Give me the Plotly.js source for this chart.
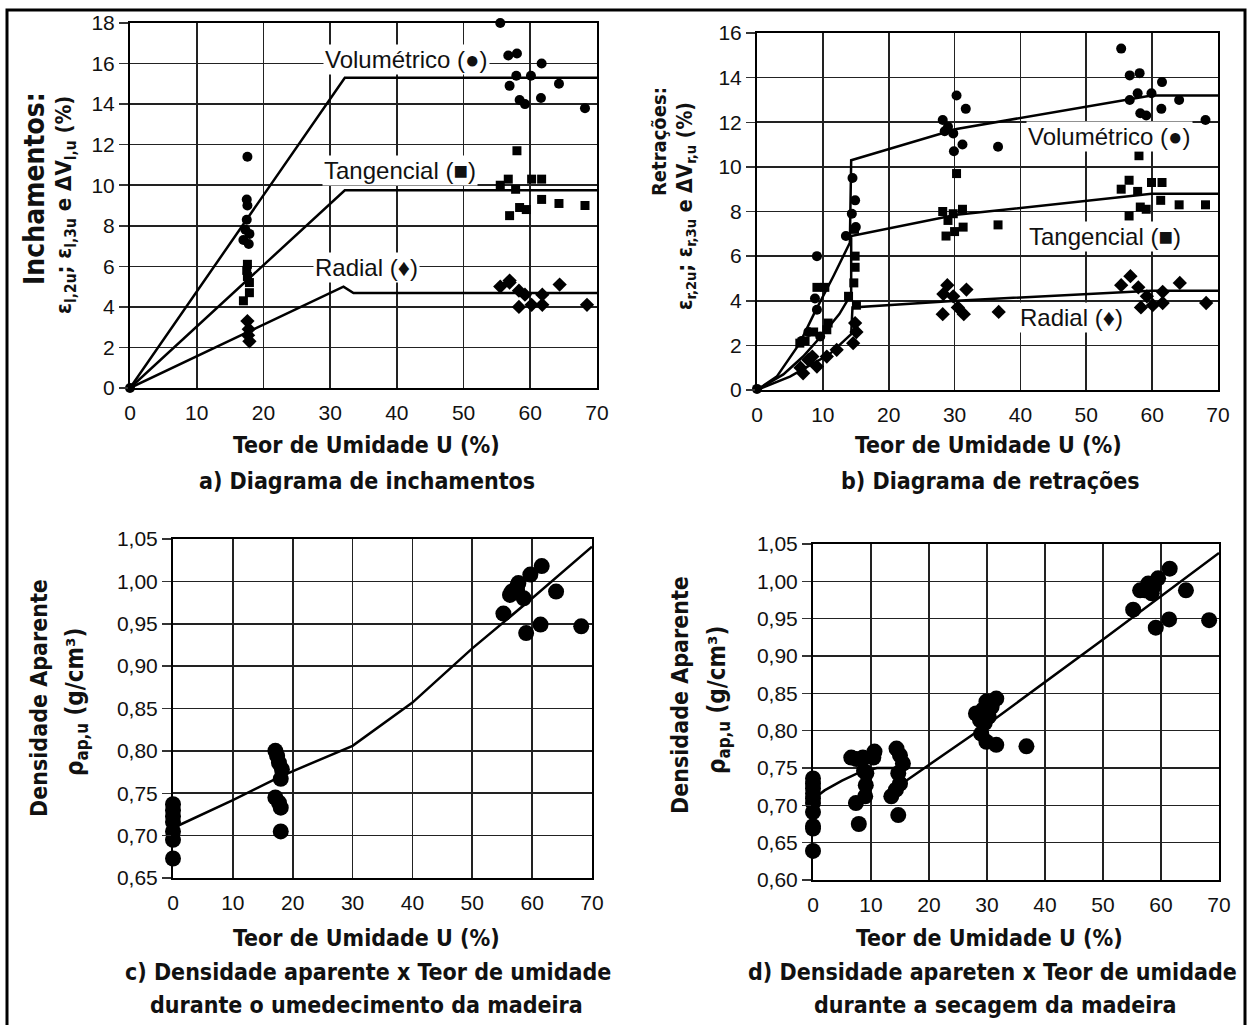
<!DOCTYPE html>
<html>
<head>
<meta charset="utf-8">
<script src="https://cdn.plot.ly/plotly-3.0.1.min.js"></script>
<style>html,body{margin:0;padding:0;background:#fff;}#chart{width:1250px;height:1025px;}</style>
</head>
<body>
<div id="chart"></div>
<script>
// ---------- Panel a: swelling (inchamentos) ----------
const aVolX = [0, 17.6, 17.5, 17.6, 17.5, 17.3, 17.0, 17.9, 17.8, 55.5, 56.7, 58.0, 57.9, 60.1, 61.7, 56.9, 58.4, 59.2, 61.6, 64.3, 68.2];
const aVolY = [0, 11.4, 9.3, 9.0, 8.3, 7.8, 7.3, 7.6, 7.1, 18.0, 16.4, 16.5, 15.4, 15.4, 16.0, 14.9, 14.2, 14.0, 14.3, 15.0, 13.8];
const aTanX = [17.6, 17.5, 17.6, 17.9, 17.9, 17.0, 55.5, 56.7, 57.8, 58.0, 56.9, 58.4, 59.4, 60.2, 61.7, 61.7, 64.3, 68.2];
const aTanY = [6.1, 5.8, 5.5, 5.2, 4.7, 4.3, 10.0, 10.3, 9.8, 11.7, 8.5, 8.9, 8.8, 10.3, 10.3, 9.3, 9.1, 9.0];
const aRadX = [17.6, 17.8, 17.7, 17.9, 55.5, 56.9, 56.9, 58.3, 58.3, 59.2, 60.2, 61.8, 61.8, 64.4, 68.5];
const aRadY = [3.3, 2.9, 2.6, 2.3, 5.0, 5.3, 5.2, 4.8, 4.0, 4.6, 4.1, 4.6, 4.1, 5.1, 4.1];
const aVolLineX = [0, 32.2, 70];
const aVolLineY = [0, 15.3, 15.3];
const aTanLineX = [0, 32.2, 70];
const aTanLineY = [0, 9.75, 9.75];
const aRadLineX = [0, 32, 33.5, 70];
const aRadLineY = [0, 5.0, 4.68, 4.68];

// ---------- Panel b: shrinkage (retrações) ----------
const bVolX = [0, 6.8, 7.8, 9.6, 9.1, 8.8, 9.1, 13.5, 15.0, 14.4, 14.9, 14.5, 28.2, 28.5, 29.0, 29.8, 30.3, 31.7, 31.2, 29.9, 36.6, 55.3, 56.6, 58.1, 57.8, 56.6, 58.2, 59.1, 59.9, 61.5, 61.4, 64.1, 68.1];
const bVolY = [0.05, 2.2, 2.6, 2.4, 3.6, 4.1, 6.0, 6.9, 7.3, 7.9, 8.5, 9.5, 12.1, 11.6, 11.8, 11.5, 13.2, 12.6, 11.0, 10.7, 10.9, 15.3, 14.1, 14.2, 13.3, 13.0, 12.4, 12.3, 13.3, 13.8, 12.6, 13.0, 12.1];
const bTanX = [6.5, 7.3, 8.6, 10.6, 10.8, 13.9, 15.1, 14.7, 9.1, 10.3, 14.9, 14.9, 14.8, 28.2, 29.0, 29.8, 31.2, 31.3, 28.7, 30.0, 30.3, 36.6, 58.0, 55.3, 56.5, 57.8, 56.5, 58.2, 59.1, 59.9, 61.5, 61.3, 64.1, 68.1];
const bTanY = [2.1, 2.2, 2.6, 2.7, 3.0, 4.2, 3.8, 4.8, 4.6, 4.6, 5.5, 6.0, 7.2, 8.0, 7.6, 7.9, 8.1, 7.3, 6.9, 7.1, 9.7, 7.4, 10.5, 9.0, 9.4, 8.9, 7.8, 8.2, 8.1, 9.3, 9.3, 8.5, 8.3, 8.3];
const bRadX = [6.6, 7.0, 7.8, 8.4, 9.1, 10.6, 12.1, 14.6, 15.1, 14.9, 28.2, 28.3, 28.9, 29.8, 30.5, 31.4, 31.8, 36.7, 55.3, 56.7, 57.9, 58.3, 59.2, 60.1, 61.6, 61.6, 64.2, 68.2];
const bRadY = [1.0, 0.75, 1.35, 1.5, 1.05, 1.5, 1.8, 2.1, 2.6, 3.0, 3.4, 4.3, 4.7, 4.2, 3.7, 3.4, 4.5, 3.5, 4.7, 5.1, 4.6, 3.7, 4.2, 3.8, 4.4, 3.9, 4.8, 3.9];
const bVolLineX = [0, 3, 6.5, 8.8, 11.6, 14.1, 14.3, 30.3, 59.9, 70];
const bVolLineY = [0, 0.6, 2.1, 3.5, 5.1, 6.6, 10.3, 11.7, 13.2, 13.2];
const bTanLineX = [0, 4, 7, 10, 12.5, 14.3, 14.3, 30.3, 59.9, 70];
const bTanLineY = [0, 0.7, 1.5, 2.5, 3.4, 4.3, 6.9, 7.85, 8.8, 8.8];
const bRadLineX = [0, 5, 8, 11, 14.3, 14.5, 30.3, 59.9, 70];
const bRadLineY = [0, 0.6, 1.1, 1.6, 2.5, 3.7, 4.0, 4.45, 4.45];

// ---------- Panel c: density during wetting ----------
const cX = [0, 0, 0, 0, 0, 0, 0, 17.1, 17.4, 17.7, 18.2, 18.0, 17.1, 17.7, 18.0, 18.0, 55.2, 56.3, 56.6, 57.5, 57.7, 57.5, 58.6, 59.7, 61.6, 59.0, 61.4, 64.0, 68.2];
const cY = [0.737, 0.730, 0.723, 0.716, 0.705, 0.695, 0.673, 0.800, 0.794, 0.786, 0.778, 0.767, 0.745, 0.739, 0.733, 0.705, 0.962, 0.984, 0.988, 0.994, 0.998, 0.988, 0.980, 1.008, 1.018, 0.939, 0.949, 0.988, 0.947];
const cLineX = [0, 10, 18, 30, 40, 50, 60, 70];
const cLineY = [0.709, 0.742, 0.770, 0.806, 0.857, 0.921, 0.980, 1.041];

// ---------- Panel d: density during drying ----------
const dX = [0, 0, 0, 0, 0, 0, 0, 0, 0, 0, 6.6, 7.5, 8.6, 10.6, 10.4, 8.8, 9.1, 7.4, 9.0, 7.9, 9.2, 14.4, 15.0, 15.5, 14.7, 15.0, 14.3, 13.5, 14.7, 28.1, 29.3, 30.8, 31.6, 29.9, 28.8, 29.6, 29.0, 29.9, 31.6, 30.3, 36.8, 55.2, 56.4, 57.8, 58.4, 59.5, 61.5, 59.1, 61.4, 64.3, 68.3, 57.2, 58.7];
const dY = [0.736, 0.729, 0.723, 0.716, 0.709, 0.703, 0.691, 0.672, 0.669, 0.639, 0.764, 0.762, 0.764, 0.772, 0.764, 0.746, 0.727, 0.703, 0.712, 0.675, 0.743, 0.776, 0.767, 0.756, 0.743, 0.729, 0.721, 0.712, 0.687, 0.823, 0.828, 0.832, 0.843, 0.839, 0.814, 0.810, 0.796, 0.785, 0.781, 0.819, 0.779, 0.962, 0.988, 0.997, 0.984, 1.004, 1.017, 0.938, 0.949, 0.988, 0.948, 0.988, 0.993];
const dLineX = [0, 2, 5, 8, 11, 14, 15.5, 30, 50, 70];
const dLineY = [0.708, 0.720, 0.733, 0.744, 0.750, 0.750, 0.730, 0.808, 0.922, 1.038];

// ---------- Text ----------
const xTitle = 'Teor de Umidade U (%)';
const subA = 'a) Diagrama de inchamentos';
const subB = 'b) Diagrama de retrações';
const subC1 = 'c) Densidade aparente x Teor de umidade';
const subC2 = 'durante o umedecimento da madeira';
const subD1 = 'd) Densidade apareten x Teor de umidade';
const subD2 = 'durante a secagem da madeira';
const yA1 = 'Inchamentos:';
const yA2 = 'ε<sub>l,2u</sub>; ε<sub>l,3u</sub> e ΔV<sub>l,u</sub> (%)';
const yB1 = 'Retrações:';
const yB2 = 'ε<sub>r,2u</sub>; ε<sub>r,3u</sub> e ΔV<sub>r,u</sub> (%)';
const yC1 = 'Densidade Aparente';
const yC2 = 'ρ<sub>ap,u</sub> (g/cm³)';
const lblVol = 'Volumétrico (●)';
const lblTan = 'Tangencial (■)';
const lblRad = 'Radial (♦)';

// ---------- Build ----------
const W = 1250, H = 1025;
const px = v => v / W;
const py = v => 1 - v / H;
const BOLD = 'DejaVu Sans Condensed, Liberation Sans Narrow, sans-serif';
const REG = 'Liberation Sans, Arial, sans-serif';

function sc(x, y, xa, ya, sym, size) {
  return {x: x, y: y, xaxis: xa, yaxis: ya, type: 'scatter', mode: 'markers', cliponaxis: false,
    marker: {symbol: sym, size: size, color: '#000'}, hoverinfo: 'skip'};
}
function ln(x, y, xa, ya) {
  return {x: x, y: y, xaxis: xa, yaxis: ya, type: 'scatter', mode: 'lines', cliponaxis: false,
    line: {color: '#000', width: 2.5}, hoverinfo: 'skip'};
}

const traces = [
  ln(aVolLineX, aVolLineY, 'x', 'y'), ln(aTanLineX, aTanLineY, 'x', 'y'), ln(aRadLineX, aRadLineY, 'x', 'y'),
  sc(aVolX, aVolY, 'x', 'y', 'circle', 10), sc(aTanX, aTanY, 'x', 'y', 'square', 9), sc(aRadX, aRadY, 'x', 'y', 'diamond', 11),
  ln(bVolLineX, bVolLineY, 'x2', 'y2'), ln(bTanLineX, bTanLineY, 'x2', 'y2'), ln(bRadLineX, bRadLineY, 'x2', 'y2'),
  sc(bVolX, bVolY, 'x2', 'y2', 'circle', 10), sc(bTanX, bTanY, 'x2', 'y2', 'square', 9), sc(bRadX, bRadY, 'x2', 'y2', 'diamond', 11),
  ln(cLineX, cLineY, 'x3', 'y3'), sc(cX, cY, 'x3', 'y3', 'circle', 16),
  ln(dLineX, dLineY, 'x4', 'y4'), sc(dX, dY, 'x4', 'y4', 'circle', 16)
];

function xax(d0, d1, anchor) {
  return {domain: [px(d0), px(d1)], anchor: anchor, range: [0, 70], dtick: 10, tick0: 0,
    showgrid: true, gridcolor: '#222', gridwidth: 1.6, zeroline: false,
    showline: true, linecolor: '#000', linewidth: 2, mirror: true,
    ticks: 'outside', ticklen: 5, tickcolor: 'rgba(0,0,0,0)',
    tickfont: {family: REG, size: 21, color: '#111'}, fixedrange: true};
}
function yax(d0, d1, anchor, r, dt, fmt) {
  const o = {domain: [py(d1), py(d0)], anchor: anchor, range: r, dtick: dt, tick0: r[0],
    showgrid: true, gridcolor: '#222', gridwidth: 1.6, zeroline: false,
    showline: true, linecolor: '#000', linewidth: 2, mirror: true,
    ticks: 'outside', ticklen: 9, tickcolor: '#333', tickwidth: 1.5,
    tickfont: {family: REG, size: 21, color: '#111'}, fixedrange: true};
  if (fmt) o.tickformat = fmt;
  return o;
}

function txt(t, x, y, size, extra) {
  return Object.assign({text: t, x: px(x), y: py(y), xref: 'paper', yref: 'paper', showarrow: false,
    xanchor: 'center', yanchor: 'middle', font: {family: BOLD, size: size, color: '#111', weight: 'bold'}}, extra || {});
}
function lab(t, x, y, xa, ya) {
  return {text: t, x: x, y: y, xref: xa, yref: ya, showarrow: false, xanchor: 'center', yanchor: 'middle',
    bgcolor: '#fff', borderpad: 1, font: {family: REG, size: 24, color: '#111'}};
}

const rot = {textangle: -90};
const annotations = [
  txt(xTitle, 366, 445, 23), txt(subA, 367, 481, 23),
  txt(xTitle, 988, 445, 23), txt(subB, 990, 481, 23),
  txt(xTitle, 366, 938, 23), txt(subC1, 368, 972, 23), txt(subC2, 366, 1005, 23),
  txt(xTitle, 989, 938, 23), txt(subD1, 992, 972, 23), txt(subD2, 995, 1005, 23),
  txt(yA1, 35, 189, 28, rot), txt(yA2, 66, 205, 22, rot),
  txt(yB1, 659, 142, 20, rot), txt(yB2, 686, 206, 21, rot),
  txt(yC1, 39, 698, 23, rot), txt(yC2, 76, 702, 24, rot),
  txt(yC1, 680, 695, 23, rot), txt(yC2, 718, 700, 24, rot),
  lab(lblVol, 41.5, 16.2, 'x', 'y'), lab(lblTan, 40.5, 10.75, 'x', 'y'), lab(lblRad, 35.5, 5.95, 'x', 'y'),
  lab(lblVol, 53.6, 11.35, 'x2', 'y2'), lab(lblTan, 52.8, 6.87, 'x2', 'y2'), lab(lblRad, 47.8, 3.25, 'x2', 'y2')
];

const layout = {
  width: W, height: H, margin: {l: 0, r: 0, t: 0, b: 0}, paper_bgcolor: '#fff', plot_bgcolor: '#fff',
  showlegend: false, separators: ',.',
  xaxis: xax(130, 597, 'y'), yaxis: yax(23, 388, 'x', [0, 18], 2),
  xaxis2: xax(757, 1218, 'y2'), yaxis2: yax(33, 390, 'x2', [0, 16], 2),
  xaxis3: xax(173, 592, 'y3'), yaxis3: yax(539, 878, 'x3', [0.65, 1.05], 0.05, '.2f'),
  xaxis4: xax(813, 1219, 'y4'), yaxis4: yax(544, 880, 'x4', [0.60, 1.05], 0.05, '.2f'),
  annotations: annotations,
  shapes: [{type: 'rect', xref: 'paper', yref: 'paper', x0: px(7), x1: px(1245), y0: py(1040), y1: py(10),
    line: {color: '#000', width: 3}, fillcolor: 'rgba(0,0,0,0)'}]
};

Plotly.newPlot('chart', traces, layout, {staticPlot: true, displayModeBar: false});
</script>
</body>
</html>
